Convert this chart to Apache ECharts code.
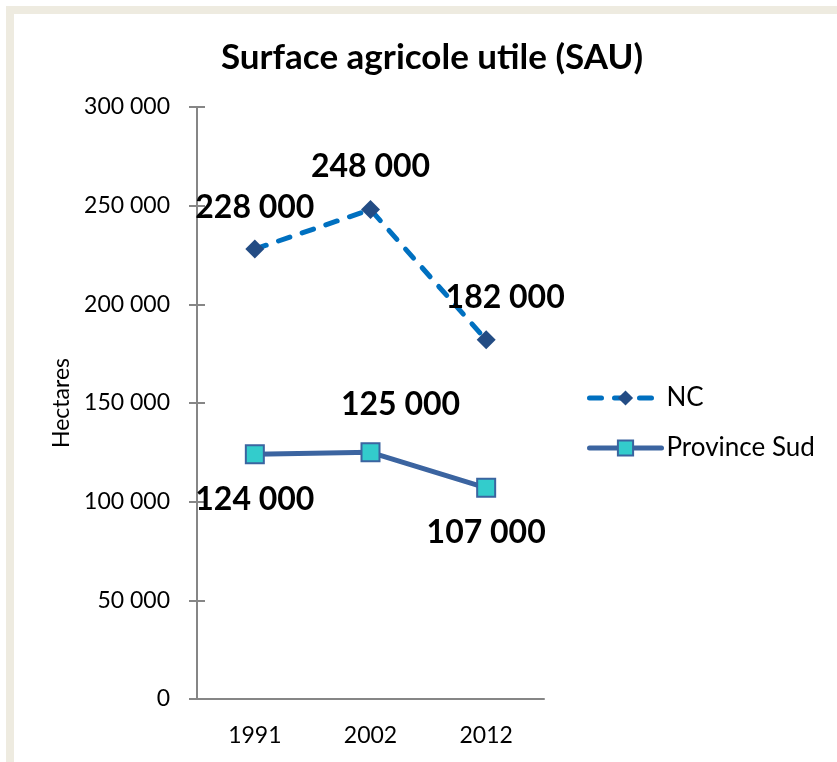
<!DOCTYPE html>
<html>
<head>
<meta charset="utf-8">
<script src="https://cdn.jsdelivr.net/npm/echarts@6/dist/echarts.min.js"></script>
<style>
  html, body { margin: 0; padding: 0; background: #fff; }
  #chart { width: 837px; height: 762px; }
</style>
</head>
<body>
<div id="chart"></div>
<script>
const years = ["1991", "2002", "2012"];
const ncValues = [228000, 248000, 182000];
const sudValues = [124000, 125000, 107000];
const yTicks = [0, 50000, 100000, 150000, 200000, 250000, 300000];

// decalage des etiquettes par point
const ncLabelOffsets = [[0, -41], [0, -43], [19, -42]];
const sudLabelOffsets = [[0, 45], [30, -48], [0, 45]];

const fmt = (v) => String(v).replace(/\B(?=(\d{3})+(?!\d))/g, " ");
const font = "Lato, 'Open Sans', sans-serif";

const chart = echarts.init(document.getElementById("chart"));

const labelStyle = {
  show: true,
  position: "inside",
  fontFamily: font,
  fontWeight: "bold",
  fontSize: 32,
  color: "#000",
  formatter: (p) => fmt(p.value),
};

const buildData = (values, offsets) =>
  values.map((v, i) => ({ value: v, label: { offset: offsets[i] } }));

const yBase = {
  type: "value",
  min: yTicks[0],
  max: yTicks[yTicks.length - 1],
  interval: yTicks[1] - yTicks[0],
  splitLine: { show: false },
};

chart.setOption({
  backgroundColor: "#fff",
  animation: false,
  graphic: [
    {
      type: "rect",
      shape: { x: 10, y: 10, width: 900, height: 900 },
      style: { fill: "none", stroke: "#EEEBE0", lineWidth: 8 },
      z: 0,
    },
  ],
  title: {
    text: "Surface agricole utile (SAU)",
    left: 427,
    top: 35,
    textAlign: "center",
    textStyle: { fontFamily: font, fontWeight: "bold", fontSize: 35, color: "#000" },
  },
  legend: {
    left: 582,
    top: 380,
    orient: "vertical",
    itemWidth: 72,
    itemHeight: 19,
    itemGap: 24,
    textStyle: { fontFamily: font, fontSize: 26, color: "#000" },
    data: [
      { name: "NC", lineStyle: { width: 5 } },
      { name: "Province Sud", lineStyle: { width: 5 } },
    ],
  },
  grid: { left: 197, right: 293, top: 107, bottom: 63 },
  xAxis: {
    type: "category",
    data: years,
    boundaryGap: true,
    axisLine: { lineStyle: { color: "#868686", width: 2 } },
    axisTick: { show: false },
    axisLabel: { fontFamily: font, fontSize: 23, color: "#000", margin: 25 },
  },
  yAxis: [
    Object.assign({}, yBase, {
      name: "Hectares",
      nameLocation: "middle",
      nameGap: 124,
      nameTextStyle: { fontFamily: font, fontSize: 23, color: "#000" },
      axisLine: { show: true, lineStyle: { color: "#868686", width: 2 } },
      axisTick: { show: true, length: 8, lineStyle: { color: "#868686", width: 2 } },
      axisLabel: { fontFamily: font, fontSize: 23, color: "#000", margin: 27, formatter: fmt },
    }),
    Object.assign({}, yBase, {
      position: "left",
      axisLine: { show: false },
      axisTick: { show: true, inside: true, length: 8, lineStyle: { color: "#868686", width: 2 } },
      axisLabel: { show: false },
    }),
  ],
  series: [
    {
      name: "NC",
      type: "line",
      data: buildData(ncValues, ncLabelOffsets),
      symbol: "diamond",
      symbolSize: 19,
      itemStyle: { color: "#234C84" },
      lineStyle: { color: "#0070C0", width: 5, type: [12, 13], cap: "round" },
      label: labelStyle,
      z: 3,
    },
    {
      name: "Province Sud",
      type: "line",
      data: buildData(sudValues, sudLabelOffsets),
      symbol: "rect",
      symbolSize: 18,
      itemStyle: { color: "#33CCCC", borderColor: "#3B64A0", borderWidth: 2 },
      lineStyle: { color: "#3B64A0", width: 5, cap: "round" },
      label: labelStyle,
      z: 3,
    },
  ],
});

window.addEventListener("resize", () => chart.resize());
</script>
</body>
</html>
